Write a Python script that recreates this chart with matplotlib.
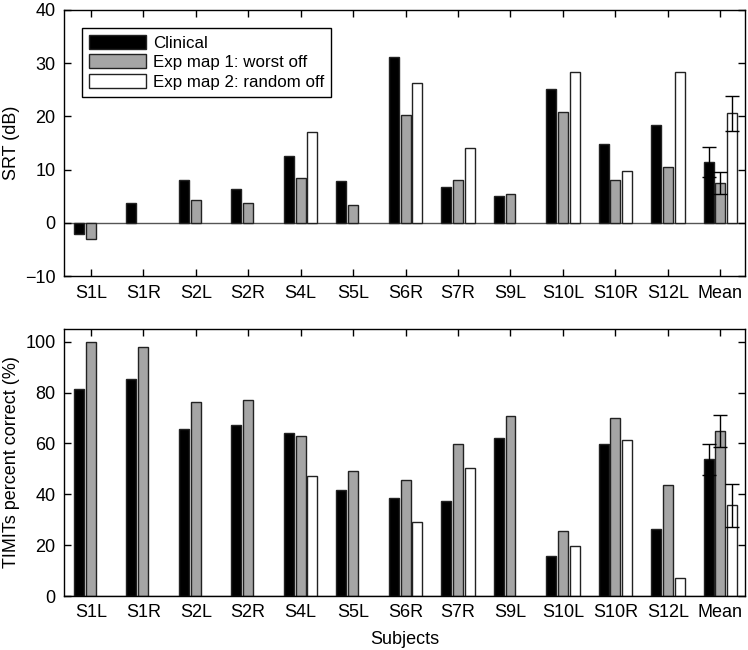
import matplotlib
matplotlib.use("Agg")
import matplotlib.pyplot as plt
import numpy as np

plt.rcParams['font.family'] = ['Liberation Sans', 'DejaVu Sans']

subjects = ['S1L', 'S1R', 'S2L', 'S2R', 'S4L', 'S5L', 'S6R', 'S7R', 'S9L',
            'S10L', 'S10R', 'S12L', 'Mean']
series_names = ['Clinical', 'Exp map 1: worst off', 'Exp map 2: random off']

# SRT (dB)
srt_clinical = [-2.1, 3.8, 8.1, 6.4, 12.6, 7.9, 31.2, 6.8, 5.1, 25.2, 14.9, 18.4, 11.5]
srt_worst = [-3.0, np.nan, 4.3, 3.8, 8.4, 3.3, 20.3, 8.0, 5.4, 20.9, 8.0, 10.5, 7.5]
srt_random = [np.nan, np.nan, np.nan, np.nan, 17.1, np.nan, 26.3, 14.0, np.nan, 28.3, 9.7, 28.3, 20.6]
srt_err = [2.8, 2.0, 3.3]

# TIMIT percent correct
tim_clinical = [81.4, 85.4, 65.7, 67.4, 63.9, 41.6, 38.7, 37.3, 62.3, 15.9, 59.6, 26.2, 53.7]
tim_worst = [100.0, 97.8, 76.1, 76.9, 63.0, 49.2, 45.8, 59.8, 70.7, 25.5, 70.0, 43.6, 64.8]
tim_random = [np.nan, np.nan, np.nan, np.nan, 47.0, np.nan, 29.3, 50.4, np.nan, 19.8, 61.4, 7.0, 35.7]
tim_err = [6.2, 6.3, 8.4]

colors = ['#000000', '#a5a5a5', '#ffffff']
x = np.arange(1, len(subjects) + 1)
offsets = [-0.225, 0.0, 0.225]
width = 0.19

fig = plt.figure(figsize=(7.48, 6.5), dpi=100)
ax1 = fig.add_axes([0.0856, 0.575, 0.9104, 0.41])
ax2 = fig.add_axes([0.0856, 0.083, 0.9104, 0.411])


def draw(ax, data, err, ylim, yticks):
    for k in range(3):
        ax.bar(x + offsets[k], data[k], width, color=colors[k],
               edgecolor='#222222', linewidth=1.0, label=series_names[k], zorder=2)
        ax.errorbar(x[-1] + offsets[k], data[k][-1], yerr=err[k], fmt='none',
                    ecolor='black', elinewidth=1.0, capsize=5, capthick=1.0, zorder=3)
    ax.axhline(0, color='#555555', linewidth=1.0, zorder=1)
    ax.set_xlim(0.49, 13.47)
    ax.set_ylim(*ylim)
    ax.set_yticks(yticks)
    ax.set_xticks(x)
    ax.set_xticklabels(subjects)
    ax.tick_params(direction='in', top=True, right=True, labelsize=13,
                   length=5, width=1.0, pad=6)
    for s in ax.spines.values():
        s.set_linewidth(1.0)


draw(ax1, [srt_clinical, srt_worst, srt_random], srt_err, (-10, 40),
     [-10, 0, 10, 20, 30, 40])
ax1.set_ylabel('SRT (dB)', fontsize=13)
leg = ax1.legend(loc='upper left', bbox_to_anchor=(0.0264, 0.932), borderaxespad=0,
                 fontsize=12.2, frameon=True, fancybox=False, edgecolor='black',
                 framealpha=1, handlelength=3.4, handleheight=0.9, borderpad=0.4,
                 labelspacing=0.22, handletextpad=0.4)
leg.get_frame().set_linewidth(1.0)

draw(ax2, [tim_clinical, tim_worst, tim_random], tim_err, (0, 105),
     [0, 20, 40, 60, 80, 100])
ax2.set_ylabel('TIMITs percent correct (%)', fontsize=13)
ax2.set_xlabel('Subjects', fontsize=13, labelpad=7)

fig.savefig('out.png', dpi=100)
